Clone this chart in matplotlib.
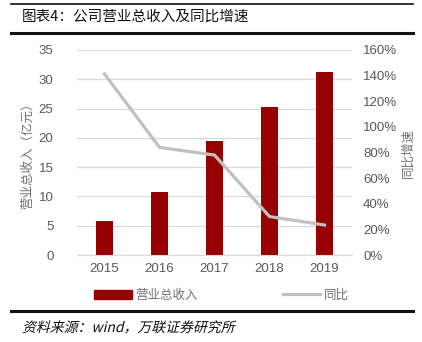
import matplotlib.pyplot as plt
from matplotlib.font_manager import FontProperties
from matplotlib.lines import Line2D
from matplotlib.patches import Patch, PathPatch
from matplotlib.textpath import TextPath
from matplotlib.transforms import Affine2D
from matplotlib.ticker import FuncFormatter

plt.rcParams['font.family'] = ['Noto Sans CJK SC', 'DejaVu Sans']

years = ['2015', '2016', '2017', '2018', '2019']
revenue = [5.85, 10.8, 19.45, 25.25, 31.2]      # 营业总收入（亿元）
growth = [141.3, 84.0, 78.0, 30.0, 23.4]        # 同比（%）

bar_color = '#960000'
line_color = '#c0c0c0'
tick_color = '#595959'
num_font = ['Liberation Sans', 'DejaVu Sans']

fig = plt.figure(figsize=(4.22, 3.42), dpi=100)
ax = fig.add_axes([77 / 422, 87 / 342, 275 / 422, 205 / 342])
ax2 = ax.twinx()

x = list(range(len(years)))
ax.bar(x, revenue, width=0.31, color=bar_color, zorder=2)
ax2.plot(x, growth, color=line_color, lw=2.3, zorder=3)

ax.set_xlim(-0.5, 4.5)
ax.set_ylim(0, 35)
ax.set_yticks(range(0, 36, 5))
ax2.set_ylim(0, 160)
ax2.set_yticks(range(0, 161, 20))
ax2.yaxis.set_major_formatter(FuncFormatter(lambda v, _: f'{v:.0f}%'))
ax.set_xticks(x, years)

ax.grid(axis='y', color='#d9d9d9', lw=0.9, zorder=0)
ax.set_axisbelow(True)
for a in (ax, ax2):
    for s in a.spines.values():
        s.set_visible(False)
    a.tick_params(length=0, labelsize=9.5, colors=tick_color)
    for lab in a.get_xticklabels() + a.get_yticklabels():
        lab.set_family(num_font)
ax.spines['bottom'].set_visible(True)
ax.spines['bottom'].set_color('#d9d9d9')
ax.tick_params(axis='y', pad=17)
ax.tick_params(axis='x', pad=6)
ax2.tick_params(axis='y', pad=8)

ax.set_ylabel('营业总收入（亿元）', fontsize=9, color='#707070', labelpad=3)
ax2.set_ylabel('同比增速', fontsize=9, color='#707070', rotation=90, labelpad=3)

handles = [Patch(color=bar_color), Line2D([], [], color=line_color, lw=2.3)]
fig.legend(handles, ['营业总收入', '同比'], loc='center', bbox_to_anchor=(0.525, 1 - 295 / 342),
           ncol=2, frameon=False, fontsize=9, labelcolor='#707070',
           handlelength=3.0, handleheight=0.7, handletextpad=0.3, columnspacing=6.8)

# header / footer rules
for yy, lw in [(4, 1.2), (32.5, 2.2), (311, 2.2)]:
    fig.add_artist(Line2D([11 / 422, 413 / 422], [1 - yy / 342] * 2, color='#111111', lw=lw))

fig.text(22 / 422, 1 - 17 / 342, '图表4：公司营业总收入及同比增速', fontsize=10.5,
         va='center', ha='left', color='#111111')

# slanted source line (CJK font has no italic face, so shear the glyph outlines)
src = TextPath((0, 0), '资料来源：wind，万联证券研究所', size=10,
               prop=FontProperties(family='Noto Sans CJK SC'))
shear = (Affine2D().skew_deg(14, 0).scale(1 / 72).translate(22 / 100, (342 - 332) / 100)
         + fig.dpi_scale_trans)
fig.add_artist(PathPatch(src, transform=shear, facecolor='#111111', edgecolor='none'))

fig.savefig('out.png', dpi=100)
